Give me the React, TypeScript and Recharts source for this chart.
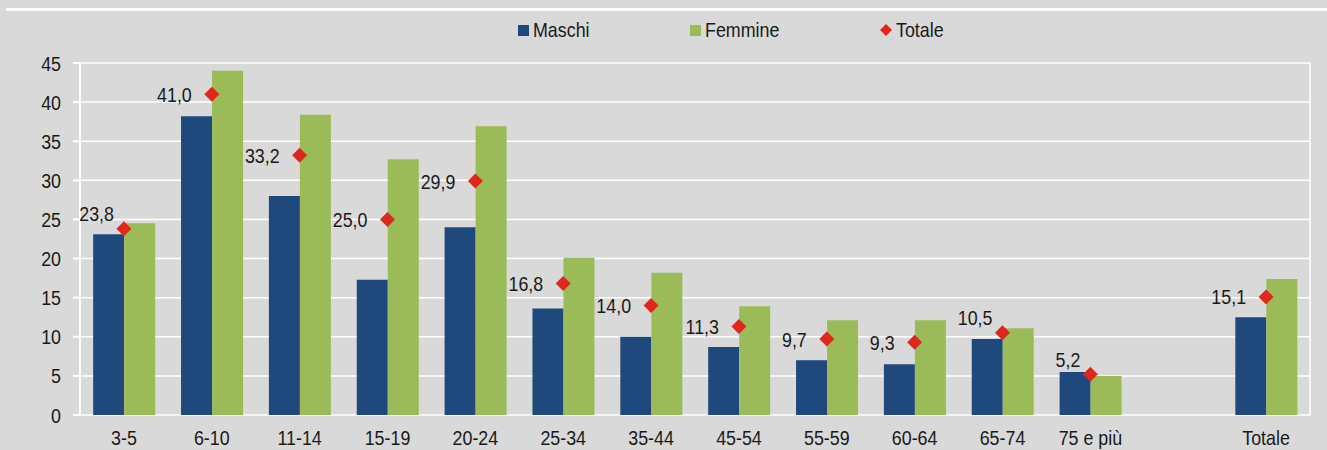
import React from 'react';
import { ComposedChart, Bar, Line, XAxis, YAxis, CartesianGrid, Legend } from 'recharts';

const categories = ['3-5', '6-10', '11-14', '15-19', '20-24', '25-34', '35-44', '45-54', '55-59', '60-64', '65-74', '75 e più', '', 'Totale'];
const maschi: (number | null)[] = [23.1, 38.2, 28.0, 17.3, 24.0, 13.6, 10.0, 8.7, 7.0, 6.5, 9.7, 5.5, null, 12.5];
const femmine: (number | null)[] = [24.5, 44.0, 38.4, 32.7, 36.9, 20.1, 18.2, 13.9, 12.1, 12.1, 11.1, 5.0, null, 17.4];
const totale: (number | null)[] = [23.8, 41.0, 33.2, 25.0, 29.9, 16.8, 14.0, 11.3, 9.7, 9.3, 10.5, 5.2, null, 15.1];
const yTicks = [0, 5, 10, 15, 20, 25, 30, 35, 40, 45];
const boundaryTicks = [0, 1, 2, 3, 4, 5, 6, 7, 8, 9, 10, 11, 12, 13, 14];

const data = categories.map((c, i) => ({ cat: c, maschi: maschi[i], femmine: femmine[i], totale: totale[i] }));

const BLUE = '#1f497d';
const GREEN = '#9bbb59';
const RED = '#e3261b';
const BG = '#d9d9d9';
const TXT = '#1a1a1a';
const FONT = '"Liberation Sans", Arial, sans-serif';
const FS = 21;
const SX = 0.85;

const NarrowText = ({ x, y, anchor, children, baseline }: any) => (
  <text
    transform={`translate(${x},${y}) scale(${SX},1)`}
    textAnchor={anchor}
    dominantBaseline={baseline}
    fontSize={FS}
    fill={TXT}
    fontFamily={FONT}
  >
    {children}
  </text>
);

const YTick = (props: any) => {
  const { x, y, payload } = props;
  return <NarrowText x={x} y={y} anchor="end" baseline="central">{payload.value}</NarrowText>;
};

const XTick = (props: any) => {
  const { x, y, payload } = props;
  return <NarrowText x={x} y={y + 16} anchor="middle" baseline="central">{payload.value}</NarrowText>;
};

const Diamond = (props: any) => {
  const { cx, cy, value, payload } = props;
  if (value == null || cx == null || cy == null) return null;
  const r = 7.5;
  // when the label would sit over the Maschi bar, lift it above-left
  const crowded = payload && payload.maschi != null && value - payload.maschi < 1.5;
  return (
    <g>
      <polygon points={`${cx},${cy - r} ${cx + r},${cy} ${cx},${cy + r} ${cx - r},${cy}`} fill={RED} />
      <NarrowText x={crowded ? cx - 10 : cx - 20} y={crowded ? cy - 15 : cy} anchor="end" baseline="central">
        {value.toFixed(1).replace('.', ',')}
      </NarrowText>
    </g>
  );
};

const LegendContent = () => {
  const item = (marker: React.ReactNode, label: string, width: number) => (
    <div style={{ display: 'flex', alignItems: 'center', width }}>
      {marker}
      <span
        style={{
          marginLeft: 4,
          fontSize: FS,
          lineHeight: '24px',
          color: TXT,
          fontFamily: FONT,
          display: 'inline-block',
          transform: `scaleX(${SX})`,
          transformOrigin: 'left center',
        }}
      >
        {label}
      </span>
    </div>
  );
  return (
    <div style={{ display: 'flex', paddingLeft: 518, height: 24 }}>
      {item(<div style={{ width: 11, height: 11, background: BLUE, flex: 'none' }} />, 'Maschi', 172)}
      {item(<div style={{ width: 11, height: 11, background: GREEN, flex: 'none' }} />, 'Femmine', 190)}
      {item(
        <svg width={12} height={12} style={{ flex: 'none' }}><polygon points="6,0 12,6 6,12 0,6" fill={RED} /></svg>,
        'Totale',
        100
      )}
    </div>
  );
};

export default function App() {
  return (
    <div style={{ position: 'absolute', left: 0, top: 0, width: 1327, height: 450, background: BG }}>
      <div style={{ position: 'absolute', left: 6, top: 8, width: 1321, height: 3, background: '#ffffff' }} />
      <ComposedChart
        width={1327}
        height={450}
        data={data}
        margin={{ top: 39, right: 17, bottom: 0, left: 8 }}
        barCategoryGap="15%"
        barGap={0}
        style={{ fontFamily: FONT }}
      >
        <CartesianGrid stroke="#ffffff" strokeWidth={1.5} xAxisId="b" />
        <XAxis
          xAxisId="b"
          type="number"
          domain={[0, 14]}
          ticks={boundaryTicks}
          tick={false}
          tickSize={6}
          height={0}
          axisLine={{ stroke: '#ffffff', strokeWidth: 2 }}
          tickLine={{ stroke: '#ffffff', strokeWidth: 2 }}
          allowDataOverflow
        />
        <XAxis
          xAxisId="c"
          dataKey="cat"
          axisLine={false}
          tickLine={false}
          tickSize={6}
          tickMargin={0}
          height={35}
          interval={0}
          tick={<XTick />}
        />
        <YAxis
          domain={[0, 45]}
          ticks={yTicks}
          width={72}
          tickSize={7}
          tickMargin={12}
          interval={0}
          axisLine={{ stroke: '#ffffff', strokeWidth: 2 }}
          tickLine={{ stroke: '#ffffff', strokeWidth: 2 }}
          tick={<YTick />}
        />
        <Legend verticalAlign="top" align="left" wrapperStyle={{ top: 18, left: 0, width: 1327 }} content={<LegendContent />} />
        <Bar xAxisId="c" dataKey="maschi" name="Maschi" fill={BLUE} isAnimationActive={false} />
        <Bar xAxisId="c" dataKey="femmine" name="Femmine" fill={GREEN} isAnimationActive={false} />
        <Line xAxisId="c" dataKey="totale" name="Totale" stroke="none" dot={<Diamond />} activeDot={false} isAnimationActive={false} legendType="diamond" />
      </ComposedChart>
    </div>
  );
}
